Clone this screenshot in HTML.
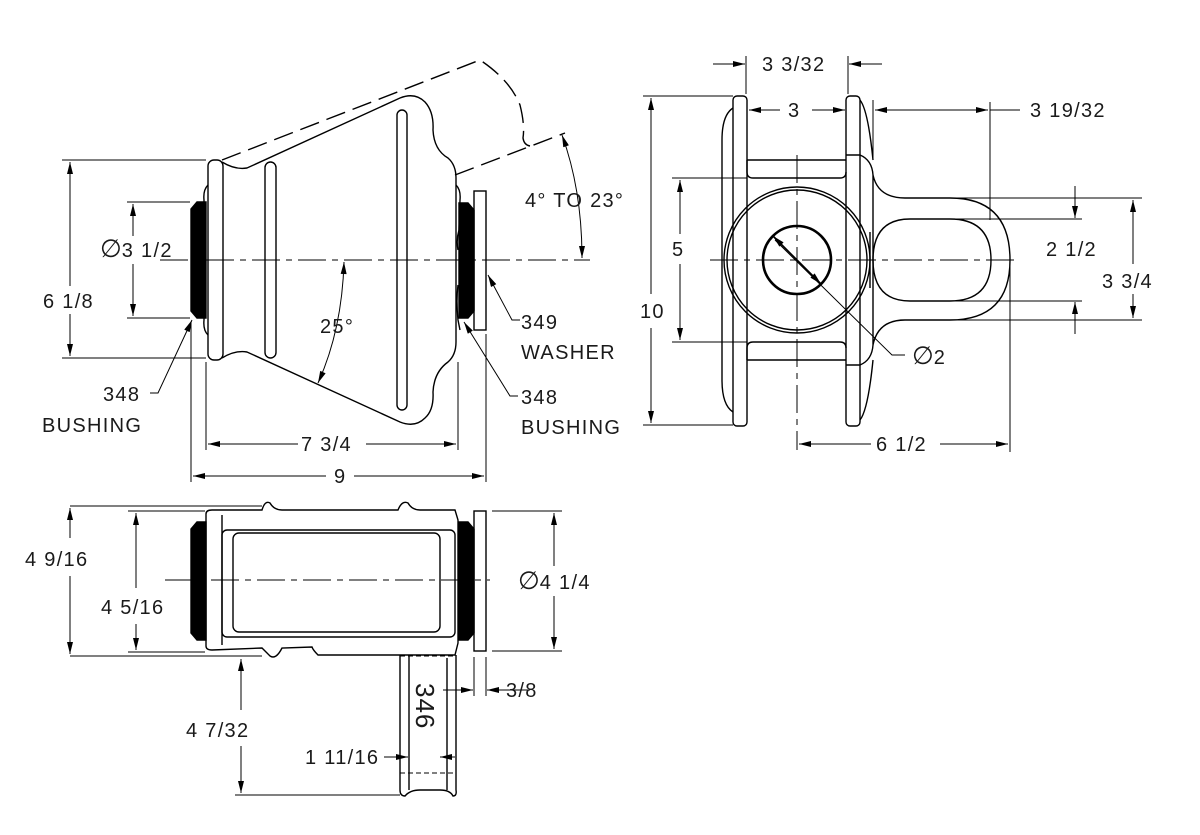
<!DOCTYPE html>
<html><head><meta charset="utf-8"><style>
html,body{margin:0;padding:0;background:#fff}
svg{display:block}
text{font-family:"Liberation Sans",sans-serif;font-size:20px;letter-spacing:1.3px;fill:#1a1a1a}
.d{font-size:25px;letter-spacing:0}
</style></head><body>
<svg width="1200" height="835" viewBox="0 0 1200 835" xmlns="http://www.w3.org/2000/svg">
<defs>
<marker id="a" viewBox="0 0 12 6" refX="12" refY="3" markerWidth="13" markerHeight="6" orient="auto-start-reverse" markerUnits="userSpaceOnUse"><path d="M0,0 L12,3 L0,6 z" fill="#000"/></marker>
</defs>
<g fill="none" stroke="#000" stroke-width="1.4">
<!-- ===== FRONT VIEW ===== -->
<line x1="160" y1="260" x2="590" y2="260" stroke-dasharray="28,6,6,6" stroke-width="1"/>
<path d="M222,160 L480,60 Q510,80 520,105 Q525,125 523,138 Q524,145 530,146 M455,175 L565,133" stroke-dasharray="20,8"/>
<path d="M222,162 Q235,170 247,168 L400,98 Q415,92 425,102 Q434,112 433,130 Q434,150 448,158 Q456,165 456,178 L456,342 Q456,355 448,362 Q434,372 433,392 Q434,410 425,418 Q415,428 400,422 L247,352 Q235,350 222,358"/>
<rect x="208" y="160" width="15" height="200" rx="6"/>
<rect x="265" y="162" width="11" height="196" rx="5.5"/>
<rect x="397" y="110" width="10" height="300" rx="5"/>
<path d="M208,185 Q203,190 204,200 L204,230 Q200,240 204,250 M204,270 Q200,280 204,290 L204,320 Q203,330 208,335"/>
<path d="M456,185 Q461,190 460,200 L459,230 Q456,240 458,250 M458,285 Q456,300 458,320 L460,330"/>
<path d="M197,202 L206,202 L206,318 L197,318 L191,311 L191,209 z" fill="#000"/>
<path d="M459,203 L468,203 L474,210 L474,311 L468,318 L459,318 z" fill="#000"/>
<rect x="474" y="191" width="12" height="139"/>
<path d="M344,262 Q342,330 318,383" marker-start="url(#a)" marker-end="url(#a)" stroke-width="1"/>
<path d="M562,135 Q582,190 582,258" marker-start="url(#a)" marker-end="url(#a)" stroke-width="1"/>
<g stroke-width="1">
<line x1="62" y1="160" x2="206" y2="160"/><line x1="62" y1="358" x2="206" y2="358"/>
<line x1="70" y1="162" x2="70" y2="286" marker-start="url(#a)"/><line x1="70" y1="314" x2="70" y2="356" marker-end="url(#a)"/>
<line x1="127" y1="202" x2="190" y2="202"/><line x1="127" y1="318" x2="190" y2="318"/>
<line x1="133" y1="204" x2="133" y2="236" marker-start="url(#a)"/><line x1="133" y1="264" x2="133" y2="316" marker-end="url(#a)"/>
<line x1="206" y1="362" x2="206" y2="450"/><line x1="458" y1="362" x2="458" y2="450"/>
<line x1="191" y1="322" x2="191" y2="482"/><line x1="486" y1="334" x2="486" y2="482"/>
<line x1="208" y1="444" x2="298" y2="444" marker-start="url(#a)"/><line x1="366" y1="444" x2="456" y2="444" marker-end="url(#a)"/>
<line x1="193" y1="476" x2="326" y2="476" marker-start="url(#a)"/><line x1="354" y1="476" x2="484" y2="476" marker-end="url(#a)"/>
<path d="M150,393 L158,393 L192,320" marker-end="url(#a)"/>
<path d="M518,396 L510,396 L464,322" marker-end="url(#a)"/>
<path d="M520,320 L512,320 L488,275" marker-end="url(#a)"/>
</g>
<!-- ===== RIGHT VIEW ===== -->
<g stroke-width="1">
<line x1="710" y1="260" x2="1020" y2="260" stroke-dasharray="28,6,6,6"/>
<line x1="797" y1="155" x2="797" y2="450" stroke-dasharray="28,6,6,6"/>
</g>
<rect x="733" y="96" width="14" height="330" rx="4"/>
<rect x="846" y="96" width="14" height="330" rx="4"/>
<path d="M733,108 Q722,115 722,140 L722,380 Q722,405 733,412"/>
<path d="M860,100 Q868,110 873,160 M860,420 Q868,410 873,360"/>
<path d="M747,160 L846,160 M747,160 L747,172 Q747,178 753,178 L840,178 Q846,178 846,172 M846,155 L860,155 Q872,160 873,175"/>
<path d="M747,360 L846,360 M747,360 L747,348 Q747,342 753,342 L840,342 Q846,342 846,348 M846,365 L860,365 Q872,360 873,345"/>
<circle cx="797" cy="260" r="73"/><circle cx="797" cy="260" r="70"/>
<circle cx="797" cy="260" r="34" stroke-width="2.6"/>
<path d="M873,175 Q878,198 905,198 L950,198 Q1010,198 1010,260 Q1010,320 950,320 L905,320 Q878,320 873,345 Z"/>
<path d="M910,219 L950,219 Q991,219 991,260 Q991,301 950,301 L910,301 Q873,301 873,260 Q873,219 910,219 Z"/>
<line x1="870" y1="232" x2="870" y2="288"/>
<g stroke-width="1">
<line x1="746" y1="56" x2="746" y2="94"/><line x1="848" y1="56" x2="848" y2="94"/>
<line x1="713" y1="64" x2="745" y2="64" marker-end="url(#a)"/><line x1="882" y1="64" x2="849" y2="64" marker-end="url(#a)"/>
<line x1="749" y1="110" x2="780" y2="110" marker-start="url(#a)"/><line x1="812" y1="110" x2="845" y2="110" marker-end="url(#a)"/>
<line x1="873" y1="100" x2="873" y2="160"/><line x1="990" y1="102" x2="990" y2="220"/>
<line x1="875" y1="110" x2="988" y2="110" marker-start="url(#a)" marker-end="url(#a)"/><line x1="990" y1="110" x2="1020" y2="110"/>
<line x1="643" y1="96" x2="733" y2="96"/><line x1="643" y1="425" x2="733" y2="425"/>
<line x1="651" y1="98" x2="651" y2="294" marker-start="url(#a)"/><line x1="651" y1="328" x2="651" y2="423" marker-end="url(#a)"/>
<line x1="672" y1="178" x2="747" y2="178"/><line x1="672" y1="342" x2="747" y2="342"/>
<line x1="680" y1="180" x2="680" y2="234" marker-start="url(#a)"/><line x1="680" y1="264" x2="680" y2="340" marker-end="url(#a)"/>
<line x1="955" y1="198" x2="1142" y2="198"/><line x1="955" y1="320" x2="1142" y2="320"/>
<line x1="955" y1="219" x2="1082" y2="219"/><line x1="955" y1="301" x2="1082" y2="301"/>
<line x1="1075" y1="186" x2="1075" y2="218" marker-end="url(#a)"/><line x1="1075" y1="334" x2="1075" y2="302" marker-end="url(#a)"/>
<line x1="1133" y1="200" x2="1133" y2="264" marker-start="url(#a)"/><line x1="1133" y1="294" x2="1133" y2="318" marker-end="url(#a)"/>
<line x1="1010" y1="262" x2="1010" y2="452"/>
<line x1="799" y1="444" x2="871" y2="444" marker-start="url(#a)"/><line x1="940" y1="444" x2="1008" y2="444" marker-end="url(#a)"/>
<path d="M905,355 L892,355 L775,240"/>
<path d="M797,260 L773,236" marker-end="url(#a)" stroke-width="1.6"/>
<path d="M797,260 L821,284" marker-end="url(#a)" stroke-width="1.6"/>
</g>
<!-- ===== BOTTOM VIEW ===== -->
<line x1="165" y1="580" x2="490" y2="580" stroke-dasharray="28,6,6,6" stroke-width="1"/>
<path d="M206,514 Q206,510 212,510 L262,510 Q265,500 270,503 Q274,510 282,510 L398,510 Q402,500 408,503 Q412,510 420,510 L455,510 L458,520 L458,643 L455,655 L318,655 Q313,650 312,647 L282,648 Q276,660 270,656 L262,648 L212,650 Q206,650 206,646 Z"/>
<line x1="222" y1="515" x2="222" y2="645"/>
<rect x="222" y="530" width="233" height="107" rx="5"/>
<rect x="233" y="533" width="207" height="99" rx="6"/>
<line x1="70" y1="506" x2="262" y2="506" stroke-width="1"/>
<line x1="70" y1="656" x2="262" y2="656" stroke-width="1"/>
<path d="M197,522 L206,522 L206,640 L197,640 L191,633 L191,529 z" fill="#000"/>
<path d="M459,522 L468,522 L474,529 L474,633 L468,640 L459,640 z" fill="#000"/>
<rect x="474" y="511" width="12" height="140"/>
<path d="M400,655 L400,790 Q400,796 405,796 Q410,790 420,790 L440,790 Q450,790 453,796 Q457,796 456,790 L456,655"/>
<line x1="409" y1="655" x2="409" y2="790"/>
<line x1="447" y1="658" x2="447" y2="790"/>
<line x1="400" y1="773" x2="456" y2="773" stroke-dasharray="5,3" stroke-width="1"/>
<line x1="400" y1="656" x2="456" y2="656" stroke-dasharray="5,3" stroke-width="1"/>
<g stroke-width="1">
<line x1="70" y1="508" x2="70" y2="538" marker-start="url(#a)"/><line x1="70" y1="576" x2="70" y2="654" marker-end="url(#a)"/>
<line x1="128" y1="511" x2="205" y2="511"/><line x1="128" y1="652" x2="205" y2="652"/>
<line x1="136" y1="513" x2="136" y2="588" marker-start="url(#a)"/><line x1="136" y1="624" x2="136" y2="650" marker-end="url(#a)"/>
<line x1="492" y1="511" x2="562" y2="511"/><line x1="492" y1="651" x2="562" y2="651"/>
<line x1="554" y1="513" x2="554" y2="566" marker-start="url(#a)"/><line x1="554" y1="596" x2="554" y2="649" marker-end="url(#a)"/>
<line x1="474" y1="657" x2="474" y2="696"/><line x1="486" y1="657" x2="486" y2="696"/>
<line x1="443" y1="690" x2="473" y2="690" marker-end="url(#a)"/><line x1="530" y1="690" x2="487" y2="690" marker-end="url(#a)"/>
<line x1="241" y1="659" x2="241" y2="710" marker-start="url(#a)"/><line x1="241" y1="746" x2="241" y2="793" marker-end="url(#a)"/>
<line x1="235" y1="795" x2="400" y2="795"/>
<line x1="384" y1="757" x2="408" y2="757" marker-end="url(#a)"/><line x1="440" y1="757" x2="455" y2="757" marker-start="url(#a)"/>
</g>
</g>
<!-- TEXT -->
<text x="43" y="308">6 1/8</text>
<text x="100" y="257"><tspan class="d">∅</tspan>3 1/2</text>
<text x="320" y="333">25°</text>
<text x="525" y="207">4° TO 23°</text>
<text x="301" y="451">7 3/4</text>
<text x="334" y="483">9</text>
<text x="103" y="401">348</text>
<text x="42" y="432">BUSHING</text>
<text x="521" y="329">349</text>
<text x="521" y="359">WASHER</text>
<text x="521" y="404">348</text>
<text x="521" y="434">BUSHING</text>
<text x="762" y="71">3 3/32</text>
<text x="788" y="117">3</text>
<text x="1030" y="117">3 19/32</text>
<text x="640" y="318">10</text>
<text x="672" y="256">5</text>
<text x="1046" y="256">2 1/2</text>
<text x="1102" y="288">3 3/4</text>
<text x="876" y="451">6 1/2</text>
<text x="912" y="364"><tspan class="d">∅</tspan>2</text>
<text x="25" y="566">4 9/16</text>
<text x="101" y="614">4 5/16</text>
<text x="518" y="589"><tspan class="d">∅</tspan>4 1/4</text>
<text x="506" y="697">3/8</text>
<text x="186" y="737">4 7/32</text>
<text x="305" y="764">1 11/16</text>
<text x="0" y="0" transform="translate(416,683) rotate(90)" style="font-size:26px;letter-spacing:1px">346</text>
</svg>
</body></html>
